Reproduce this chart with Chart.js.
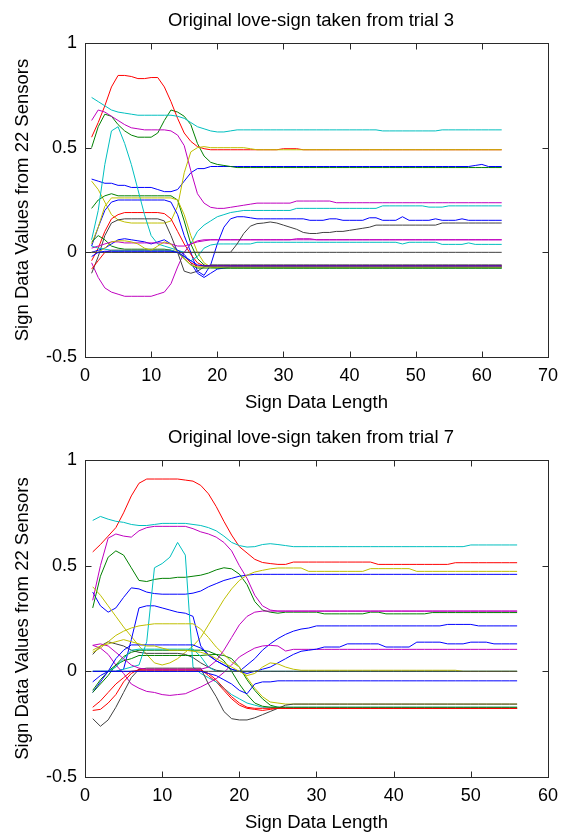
<!DOCTYPE html>
<html><head><meta charset="utf-8">
<script src="https://cdn.jsdelivr.net/npm/chart.js@4.4.1/dist/chart.umd.min.js"></script>
<style>
html,body{margin:0;padding:0;background:#fff;}
#wrap{position:relative;width:566px;height:834px;overflow:hidden;background:#fff;}
.box{position:absolute;left:0;width:566px;height:417px;}
</style></head><body>
<div id="wrap">
<div class="box" style="top:0"><canvas id="c3"></canvas></div>
<div class="box" style="top:417px"><canvas id="c7"></canvas></div>
</div>
<script>
// ---------- text ----------
const titleTrial3 = 'Original love-sign taken from trial 3';
const titleTrial7 = 'Original love-sign taken from trial 7';
const xAxisLabel = 'Sign Data Length';
const yAxisLabel = 'Sign Data Values from 22 Sensors';
// ---------- tick labels ----------
const xTicksTrial3 = [0,10,20,30,40,50,60,70];
const xTicksTrial7 = [0,10,20,30,40,50,60];
const yTicks = [-0.5,0,0.5,1];
// ---------- MATLAB colour order ----------
const lineColors = ['#0000ff','#008000','#ff0000','#00bfbf','#bf00bf','#bfbf00','#404040'];

// ---------- trial 3 : 22 sensors x 63 samples ----------
const trial3_01 = [0.35,0.34,0.33,0.33,0.32,0.32,0.31,0.31,0.31,0.31,
0.30,0.29,0.29,0.30,0.34,0.38,0.40,0.40,0.41,0.41,
0.41,0.41,0.41,0.41,0.41,0.41,0.41,0.41,0.41,0.41,
0.41,0.41,0.41,0.41,0.41,0.41,0.41,0.41,0.41,0.41,
0.41,0.41,0.41,0.41,0.41,0.41,0.41,0.41,0.41,0.41,
0.41,0.41,0.41,0.41,0.41,0.41,0.41,0.41,0.415,0.42,
0.41,0.41,0.41];
const trial3_02 = [0.50,0.60,0.66,0.65,0.61,0.58,0.56,0.55,0.55,0.55,
0.57,0.63,0.68,0.67,0.65,0.61,0.52,0.46,0.43,0.42,
0.415,0.41,0.405,0.405,0.405,0.405,0.405,0.405,0.405,0.405,
0.405,0.405,0.405,0.405,0.405,0.405,0.405,0.405,0.405,0.405,
0.405,0.405,0.405,0.405,0.405,0.405,0.405,0.405,0.405,0.405,
0.405,0.405,0.405,0.405,0.405,0.405,0.405,0.405,0.405,0.405,
0.405,0.405,0.405];
const trial3_03 = [0.55,0.62,0.70,0.79,0.845,0.845,0.84,0.83,0.83,0.835,
0.835,0.79,0.72,0.64,0.57,0.53,0.505,0.495,0.49,0.49,
0.49,0.49,0.49,0.49,0.49,0.49,0.49,0.49,0.49,0.495,
0.495,0.495,0.49,0.49,0.49,0.49,0.49,0.49,0.49,0.49,
0.49,0.49,0.49,0.49,0.49,0.49,0.49,0.49,0.49,0.49,
0.49,0.49,0.49,0.49,0.49,0.49,0.49,0.49,0.49,0.49,
0.49,0.49,0.49];
const trial3_04 = [0.74,0.72,0.70,0.68,0.67,0.665,0.66,0.655,0.655,0.655,
0.655,0.655,0.655,0.65,0.64,0.62,0.60,0.59,0.58,0.575,
0.575,0.58,0.585,0.585,0.585,0.585,0.585,0.585,0.585,0.585,
0.585,0.585,0.585,0.585,0.585,0.585,0.585,0.585,0.585,0.585,
0.585,0.585,0.585,0.585,0.58,0.58,0.58,0.58,0.58,0.58,
0.58,0.58,0.58,0.585,0.585,0.585,0.585,0.585,0.585,0.585,
0.585,0.585,0.585];
const trial3_05 = [0.63,0.68,0.67,0.65,0.63,0.61,0.595,0.59,0.585,0.585,
0.585,0.585,0.58,0.56,0.51,0.39,0.28,0.235,0.215,0.21,
0.21,0.215,0.22,0.225,0.23,0.235,0.235,0.235,0.235,0.235,
0.235,0.245,0.245,0.245,0.245,0.245,0.245,0.237,0.237,0.237,
0.237,0.237,0.237,0.237,0.237,0.237,0.237,0.237,0.237,0.237,
0.237,0.237,0.237,0.237,0.237,0.237,0.237,0.237,0.237,0.237,
0.237,0.237,0.237];
const trial3_06 = [0.34,0.30,0.24,0.18,0.155,0.145,0.14,0.14,0.14,0.14,
0.14,0.14,0.15,0.22,0.38,0.48,0.50,0.505,0.50,0.50,
0.50,0.50,0.50,0.50,0.495,0.49,0.49,0.49,0.49,0.49,
0.49,0.49,0.49,0.49,0.49,0.49,0.49,0.49,0.49,0.49,
0.49,0.49,0.49,0.49,0.49,0.49,0.49,0.49,0.49,0.49,
0.49,0.49,0.49,0.49,0.49,0.49,0.49,0.49,0.49,0.49,
0.49,0.49,0.49];
const trial3_07 = [0,0,0,0,0,0,0,0,0,0,
0,0,0,0,0,0,0,0,0,0,
0,0,0,0,0,0,0,0,0,0,
0,0,0,0,0,0,0,0,0,0,
0,0,0,0,0,0,0,0,0,0,
0,0,0,0,0,0,0,0,0,0,
0,0,0];
const trial3_08 = [0.03,0.12,0.20,0.24,0.25,0.25,0.25,0.25,0.25,0.25,
0.25,0.25,0.24,0.18,0.08,0.0,-0.09,-0.11,-0.06,0.04,
0.12,0.16,0.17,0.17,0.165,0.16,0.16,0.16,0.16,0.16,
0.16,0.16,0.16,0.153,0.153,0.153,0.16,0.16,0.153,0.153,
0.153,0.153,0.165,0.165,0.153,0.153,0.153,0.17,0.153,0.153,
0.153,0.153,0.16,0.153,0.153,0.153,0.16,0.153,0.153,0.153,
0.153,0.153,0.153];
const trial3_09 = [0.21,0.25,0.27,0.28,0.27,0.27,0.27,0.27,0.27,0.27,
0.27,0.27,0.27,0.25,0.15,0.04,-0.03,-0.06,-0.07,-0.075,
-0.075,-0.075,-0.075,-0.075,-0.075,-0.075,-0.075,-0.075,-0.075,-0.075,
-0.075,-0.075,-0.075,-0.075,-0.075,-0.075,-0.075,-0.075,-0.075,-0.075,
-0.075,-0.075,-0.075,-0.075,-0.075,-0.075,-0.075,-0.075,-0.075,-0.075,
-0.075,-0.075,-0.075,-0.075,-0.075,-0.075,-0.075,-0.075,-0.075,-0.075,
-0.075,-0.075,-0.075];
const trial3_10 = [-0.04,0.02,0.10,0.16,0.18,0.19,0.19,0.19,0.19,0.19,
0.19,0.185,0.16,0.10,0.04,-0.01,-0.05,-0.065,-0.065,-0.065,
-0.065,-0.065,-0.065,-0.065,-0.065,-0.065,-0.065,-0.065,-0.065,-0.065,
-0.065,-0.065,-0.065,-0.065,-0.065,-0.065,-0.065,-0.065,-0.065,-0.065,
-0.065,-0.065,-0.065,-0.065,-0.065,-0.065,-0.065,-0.065,-0.065,-0.065,
-0.065,-0.065,-0.065,-0.065,-0.065,-0.065,-0.065,-0.065,-0.065,-0.065,
-0.065,-0.065,-0.065];
const trial3_11 = [0.06,0.20,0.42,0.58,0.60,0.52,0.42,0.30,0.18,0.08,
0.04,0.03,0.02,0.01,0.0,0.04,0.10,0.13,0.15,0.17,
0.18,0.19,0.195,0.2,0.2,0.2,0.2,0.2,0.2,0.2,
0.2,0.21,0.21,0.21,0.21,0.21,0.21,0.21,0.21,0.21,
0.21,0.21,0.21,0.21,0.222,0.222,0.222,0.222,0.222,0.222,
0.222,0.216,0.216,0.216,0.222,0.222,0.222,0.222,0.222,0.222,
0.222,0.222,0.222];
const trial3_12 = [-0.05,-0.12,-0.17,-0.19,-0.2,-0.21,-0.21,-0.21,-0.21,-0.21,
-0.2,-0.19,-0.15,-0.07,0.0,0.04,0.055,0.06,0.06,0.06,
0.06,0.06,0.06,0.06,0.06,0.06,0.06,0.06,0.06,0.06,
0.06,0.065,0.065,0.065,0.06,0.06,0.06,0.06,0.06,0.06,
0.06,0.06,0.06,0.06,0.06,0.06,0.06,0.06,0.06,0.06,
0.06,0.06,0.06,0.06,0.06,0.06,0.06,0.06,0.06,0.06,
0.06,0.06,0.06];
const trial3_13 = [0.04,0.12,0.22,0.26,0.26,0.26,0.26,0.26,0.26,0.26,
0.26,0.26,0.26,0.25,0.18,0.08,0.0,-0.05,-0.07,-0.07,
-0.07,-0.07,-0.07,-0.07,-0.07,-0.07,-0.07,-0.07,-0.07,-0.07,
-0.07,-0.07,-0.07,-0.07,-0.07,-0.07,-0.07,-0.07,-0.07,-0.07,
-0.07,-0.07,-0.07,-0.07,-0.07,-0.07,-0.07,-0.07,-0.07,-0.07,
-0.07,-0.07,-0.07,-0.07,-0.07,-0.07,-0.07,-0.07,-0.07,-0.07,
-0.07,-0.07,-0.07];
const trial3_14 = [-0.1,-0.02,0.08,0.14,0.155,0.16,0.16,0.16,0.16,0.16,
0.16,0.15,0.08,0.0,-0.09,-0.1,-0.09,-0.07,-0.06,-0.06,
-0.06,-0.06,-0.06,-0.06,-0.06,-0.06,-0.06,-0.06,-0.06,-0.06,
-0.06,-0.06,-0.06,-0.06,-0.06,-0.06,-0.06,-0.06,-0.06,-0.06,
-0.06,-0.06,-0.06,-0.06,-0.06,-0.06,-0.06,-0.06,-0.06,-0.06,
-0.06,-0.06,-0.06,-0.06,-0.06,-0.06,-0.06,-0.06,-0.06,-0.06,
-0.06,-0.06,-0.06];
const trial3_15 = [0.0,0.01,0.02,0.04,0.06,0.065,0.06,0.055,0.05,0.04,
0.05,0.06,0.04,0.01,-0.01,-0.05,-0.1,-0.12,-0.1,-0.08,
-0.075,-0.07,-0.07,-0.07,-0.07,-0.07,-0.07,-0.07,-0.07,-0.07,
-0.07,-0.07,-0.07,-0.07,-0.07,-0.07,-0.07,-0.07,-0.07,-0.07,
-0.07,-0.07,-0.07,-0.07,-0.07,-0.07,-0.07,-0.07,-0.07,-0.07,
-0.07,-0.07,-0.07,-0.07,-0.07,-0.07,-0.07,-0.07,-0.07,-0.07,
-0.07,-0.07,-0.07];
const trial3_16 = [0.05,0.08,0.06,0.03,0.02,0.015,0.015,0.015,0.015,0.015,
0.015,0.015,0.01,0.0,-0.03,-0.06,-0.075,-0.075,-0.075,-0.075,
-0.075,-0.075,-0.075,-0.075,-0.075,-0.075,-0.075,-0.075,-0.075,-0.075,
-0.075,-0.075,-0.075,-0.075,-0.075,-0.075,-0.075,-0.075,-0.075,-0.075,
-0.075,-0.075,-0.075,-0.075,-0.075,-0.075,-0.075,-0.075,-0.075,-0.075,
-0.075,-0.075,-0.075,-0.075,-0.075,-0.075,-0.075,-0.075,-0.075,-0.075,
-0.075,-0.075,-0.075];
const trial3_17 = [-0.08,-0.04,0.0,0.01,0.01,0.01,0.01,0.01,0.01,0.01,
0.01,0.01,0.01,0.0,-0.02,-0.05,-0.065,-0.065,-0.065,-0.065,
-0.065,-0.065,-0.065,-0.065,-0.065,-0.065,-0.065,-0.065,-0.065,-0.065,
-0.065,-0.065,-0.065,-0.065,-0.065,-0.065,-0.065,-0.065,-0.065,-0.065,
-0.065,-0.065,-0.065,-0.065,-0.065,-0.065,-0.065,-0.065,-0.065,-0.065,
-0.065,-0.065,-0.065,-0.065,-0.065,-0.065,-0.065,-0.065,-0.065,-0.065,
-0.065,-0.065,-0.065];
const trial3_18 = [0.03,0.02,0.015,0.01,0.01,0.01,0.01,0.01,0.01,0.01,
0.01,0.01,0.01,0.0,-0.02,-0.04,-0.02,0.02,0.035,0.04,
0.04,0.04,0.04,0.04,0.04,0.048,0.048,0.048,0.048,0.048,
0.048,0.048,0.048,0.048,0.048,0.048,0.048,0.048,0.048,0.048,
0.048,0.048,0.048,0.048,0.048,0.048,0.048,0.04,0.048,0.048,
0.048,0.048,0.048,0.038,0.038,0.038,0.038,0.045,0.038,0.038,
0.038,0.038,0.038];
const trial3_19 = [0.02,0.03,0.04,0.05,0.05,0.045,0.045,0.045,0.045,0.045,
0.045,0.045,0.04,0.03,0.03,0.04,0.05,0.055,0.06,0.06,
0.06,0.06,0.06,0.06,0.06,0.06,0.06,0.06,0.06,0.06,
0.06,0.06,0.06,0.06,0.06,0.06,0.06,0.06,0.06,0.06,
0.06,0.06,0.06,0.06,0.06,0.06,0.06,0.06,0.06,0.06,
0.06,0.06,0.06,0.06,0.06,0.06,0.06,0.06,0.06,0.06,
0.06,0.06,0.06];
const trial3_20 = [0.0,0.0,0.02,0.05,0.055,0.055,0.05,0.04,0.02,0.01,
0.03,0.05,0.04,0.0,-0.03,-0.06,-0.07,-0.07,-0.07,-0.07,
-0.07,-0.07,-0.07,-0.07,-0.07,-0.07,-0.07,-0.07,-0.07,-0.07,
-0.07,-0.07,-0.07,-0.07,-0.07,-0.07,-0.07,-0.07,-0.07,-0.07,
-0.07,-0.07,-0.07,-0.07,-0.07,-0.07,-0.07,-0.07,-0.07,-0.07,
-0.07,-0.07,-0.07,-0.07,-0.07,-0.07,-0.07,-0.07,-0.07,-0.07,
-0.07,-0.07,-0.07];
const trial3_21 = [0,0,0,0,0,0,0,0,0,0,
0,0,0,0,0,0,0,0,0,0,
0,0,0.04,0.09,0.125,0.137,0.14,0.145,0.14,0.13,
0.12,0.11,0.095,0.09,0.09,0.095,0.095,0.1,0.1,0.105,
0.11,0.115,0.12,0.13,0.13,0.13,0.13,0.13,0.13,0.13,
0.13,0.13,0.13,0.14,0.14,0.14,0.14,0.14,0.14,0.14,
0.14,0.14,0.14];
const trial3_22 = [-0.02,0.0,0.005,0.005,0.005,0.005,0.005,0.005,0.005,0.005,
0.005,0.005,0.005,0.0,-0.02,-0.04,-0.06,-0.065,-0.065,-0.065,
-0.065,-0.065,-0.065,-0.065,-0.065,-0.065,-0.065,-0.065,-0.065,-0.065,
-0.065,-0.065,-0.065,-0.065,-0.065,-0.065,-0.065,-0.065,-0.065,-0.065,
-0.065,-0.065,-0.065,-0.065,-0.065,-0.065,-0.065,-0.065,-0.065,-0.065,
-0.065,-0.065,-0.065,-0.065,-0.065,-0.065,-0.065,-0.065,-0.065,-0.065,
-0.065,-0.065,-0.065];

// ---------- trial 7 : 22 sensors x 56 samples ----------
const trial7_01 = [0.375,0.31,0.28,0.30,0.35,0.395,0.39,0.375,0.368,0.365,
0.365,0.365,0.365,0.37,0.38,0.40,0.415,0.43,0.44,0.45,
0.455,0.459,0.459,0.459,0.459,0.459,0.459,0.459,0.459,0.459,
0.459,0.459,0.459,0.459,0.459,0.459,0.459,0.459,0.459,0.459,
0.459,0.459,0.459,0.459,0.459,0.459,0.459,0.459,0.459,0.459,
0.459,0.459,0.459,0.459,0.459,0.459];
const trial7_02 = [0.30,0.45,0.54,0.57,0.55,0.49,0.43,0.425,0.435,0.44,
0.44,0.445,0.445,0.45,0.455,0.465,0.48,0.49,0.485,0.46,
0.41,0.33,0.29,0.28,0.275,0.28,0.28,0.28,0.28,0.28,
0.272,0.272,0.272,0.272,0.272,0.272,0.28,0.28,0.272,0.272,
0.272,0.272,0.272,0.272,0.278,0.278,0.278,0.278,0.278,0.278,
0.278,0.278,0.278,0.278,0.278,0.278];
const trial7_03 = [0.565,0.60,0.64,0.68,0.75,0.83,0.89,0.91,0.91,0.91,
0.91,0.91,0.905,0.90,0.88,0.84,0.78,0.71,0.645,0.59,
0.56,0.53,0.515,0.51,0.506,0.506,0.517,0.517,0.517,0.517,
0.517,0.517,0.517,0.517,0.517,0.517,0.517,0.506,0.506,0.506,
0.506,0.506,0.506,0.506,0.506,0.506,0.506,0.514,0.514,0.514,
0.514,0.514,0.514,0.514,0.514,0.514];
const trial7_04 = [0.714,0.733,0.72,0.71,0.705,0.695,0.69,0.69,0.695,0.70,
0.70,0.70,0.70,0.695,0.69,0.68,0.665,0.64,0.61,0.595,
0.588,0.59,0.60,0.604,0.60,0.595,0.59,0.59,0.59,0.59,
0.59,0.59,0.59,0.59,0.59,0.59,0.59,0.59,0.59,0.59,
0.59,0.59,0.59,0.59,0.59,0.59,0.59,0.59,0.59,0.598,
0.598,0.598,0.598,0.598,0.598,0.598];
const trial7_05 = [0.336,0.50,0.63,0.65,0.64,0.635,0.665,0.68,0.686,0.686,
0.686,0.686,0.686,0.675,0.66,0.65,0.635,0.61,0.57,0.50,
0.44,0.36,0.31,0.29,0.285,0.285,0.285,0.285,0.285,0.285,
0.285,0.285,0.285,0.285,0.285,0.285,0.285,0.285,0.285,0.285,
0.285,0.285,0.285,0.285,0.285,0.285,0.285,0.285,0.285,0.285,
0.285,0.285,0.285,0.285,0.285,0.285];
const trial7_06 = [0.40,0.36,0.31,0.26,0.21,0.165,0.12,0.08,0.04,0.03,
0.04,0.06,0.09,0.12,0.16,0.22,0.28,0.34,0.39,0.43,
0.455,0.47,0.478,0.485,0.489,0.489,0.489,0.489,0.473,0.473,
0.473,0.473,0.473,0.473,0.473,0.473,0.486,0.486,0.486,0.486,
0.486,0.486,0.473,0.473,0.473,0.473,0.473,0.473,0.473,0.473,
0.473,0.473,0.473,0.473,0.473,0.473];
const trial7_07 = [0.08,0.12,0.14,0.13,0.12,0.10,0.09,0.085,0.085,0.085,
0.085,0.085,0.08,0.065,0.04,0.02,0.005,0,0,0,
0,0,0,0,0,0,0,0,0,0,
0,0,0,0,0,0,0,0,0,0,
0,0,0,0,0,0,0,0,0,0,
0,0,0,0,0,0];
const trial7_08 = [-0.05,-0.02,0.0,0.0,0.01,0.15,0.30,0.31,0.31,0.30,
0.29,0.28,0.275,0.26,0.12,0.075,0.05,0.03,0.01,0.0,
0.03,0.06,0.1,0.13,0.155,0.175,0.19,0.2,0.205,0.215,
0.215,0.215,0.215,0.215,0.215,0.215,0.215,0.215,0.215,0.215,
0.215,0.215,0.215,0.215,0.215,0.215,0.222,0.222,0.222,0.222,
0.215,0.215,0.215,0.215,0.215,0.215];
const trial7_09 = [-0.09,-0.04,0.0,0.03,0.05,0.06,0.075,0.075,0.075,0.075,
0.075,0.075,0.075,0.075,0.075,0.078,0.08,0.075,0.06,0.02,
-0.04,-0.09,-0.13,-0.16,-0.17,-0.175,-0.175,-0.175,-0.175,-0.175,
-0.175,-0.175,-0.175,-0.175,-0.175,-0.175,-0.175,-0.175,-0.175,-0.175,
-0.175,-0.175,-0.175,-0.175,-0.175,-0.175,-0.175,-0.175,-0.175,-0.175,
-0.175,-0.175,-0.175,-0.175,-0.175,-0.175];
const trial7_10 = [-0.185,-0.18,-0.15,-0.11,-0.05,-0.01,0.01,0.01,0.01,0.01,
0.01,0.01,0.01,0.01,0.01,-0.02,-0.05,-0.09,-0.13,-0.16,
-0.175,-0.18,-0.185,-0.18,-0.175,-0.175,-0.175,-0.175,-0.175,-0.175,
-0.175,-0.175,-0.175,-0.175,-0.175,-0.175,-0.175,-0.175,-0.175,-0.175,
-0.175,-0.175,-0.175,-0.175,-0.175,-0.175,-0.175,-0.175,-0.175,-0.175,
-0.175,-0.175,-0.175,-0.175,-0.175,-0.175];
const trial7_11 = [0.0,0.0,0.0,0.0,0.01,0.02,0.03,0.14,0.49,0.51,
0.54,0.61,0.55,0.02,-0.01,-0.03,-0.05,-0.08,-0.11,-0.13,
-0.15,-0.16,-0.17,-0.17,-0.17,-0.17,-0.17,-0.17,-0.17,-0.17,
-0.17,-0.17,-0.17,-0.17,-0.17,-0.17,-0.17,-0.17,-0.17,-0.17,
-0.17,-0.17,-0.17,-0.17,-0.17,-0.17,-0.17,-0.17,-0.17,-0.17,
-0.17,-0.17,-0.17,-0.17,-0.17,-0.17];
const trial7_12 = [0.123,0.11,0.08,0.03,-0.01,-0.06,-0.08,-0.095,-0.10,-0.11,
-0.114,-0.11,-0.106,-0.09,-0.074,-0.055,-0.035,-0.005,0.03,0.068,
0.09,0.11,0.12,0.123,0.12,0.096,0.104,0.104,0.104,0.104,
0.104,0.104,0.104,0.104,0.104,0.104,0.104,0.104,0.104,0.104,
0.104,0.104,0.104,0.104,0.104,0.104,0.104,0.104,0.104,0.104,
0.104,0.104,0.104,0.104,0.104,0.104];
const trial7_13 = [0.09,0.11,0.14,0.17,0.19,0.205,0.215,0.22,0.225,0.225,
0.225,0.225,0.225,0.225,0.2,0.16,0.115,0.08,0.045,0.02,
-0.03,-0.08,-0.12,-0.145,-0.15,-0.155,-0.155,-0.155,-0.155,-0.155,
-0.155,-0.155,-0.155,-0.155,-0.155,-0.155,-0.155,-0.155,-0.155,-0.155,
-0.155,-0.155,-0.155,-0.155,-0.155,-0.155,-0.155,-0.155,-0.155,-0.155,
-0.155,-0.155,-0.155,-0.155,-0.155,-0.155];
const trial7_14 = [-0.224,-0.26,-0.23,-0.17,-0.1,-0.03,0.01,0.015,0.015,0.015,
0.015,0.015,0.015,0.015,0.015,-0.06,-0.12,-0.19,-0.224,-0.23,
-0.23,-0.22,-0.205,-0.19,-0.175,-0.16,-0.155,-0.155,-0.155,-0.155,
-0.155,-0.155,-0.155,-0.155,-0.155,-0.155,-0.155,-0.155,-0.155,-0.155,
-0.155,-0.155,-0.155,-0.155,-0.155,-0.155,-0.155,-0.155,-0.155,-0.155,
-0.155,-0.155,-0.155,-0.155,-0.155,-0.155];
const trial7_15 = [-0.1,-0.05,0.0,0.06,0.1,0.125,0.125,0.125,0.125,0.125,
0.125,0.125,0.125,0.125,0.11,0.08,0.05,0.03,0.01,0.0,
-0.01,0.0,0.01,0.02,0.04,0.06,0.08,0.095,0.1,0.105,
0.115,0.115,0.115,0.13,0.13,0.13,0.13,0.13,0.115,0.115,
0.115,0.115,0.138,0.138,0.138,0.138,0.13,0.13,0.13,0.138,
0.138,0.138,0.13,0.13,0.13,0.13];
const trial7_16 = [-0.1,-0.06,-0.02,0.03,0.07,0.09,0.1,0.1,0.1,0.1,
0.1,0.1,0.1,0.1,0.1,0.095,0.08,0.05,0.0,-0.06,
-0.11,-0.15,-0.165,-0.17,-0.17,-0.17,-0.17,-0.17,-0.17,-0.17,
-0.17,-0.17,-0.17,-0.17,-0.17,-0.17,-0.17,-0.17,-0.17,-0.17,
-0.17,-0.17,-0.17,-0.17,-0.17,-0.17,-0.17,-0.17,-0.17,-0.17,
-0.17,-0.17,-0.17,-0.17,-0.17,-0.17];
const trial7_17 = [-0.17,-0.14,-0.1,-0.06,-0.03,0.0,0.005,0.005,0.005,0.005,
0.005,0.005,0.005,0.005,0.005,-0.01,-0.04,-0.08,-0.12,-0.15,
-0.17,-0.175,-0.175,-0.175,-0.175,-0.175,-0.175,-0.175,-0.175,-0.175,
-0.175,-0.175,-0.175,-0.175,-0.175,-0.175,-0.175,-0.175,-0.175,-0.175,
-0.175,-0.175,-0.175,-0.175,-0.175,-0.175,-0.175,-0.175,-0.175,-0.175,
-0.175,-0.175,-0.175,-0.175,-0.175,-0.175];
const trial7_18 = [0,0,0,0.02,0.06,0.1,0.105,0.105,0.105,0.105,
0.105,0.105,0.105,0.105,0.07,0.02,0,0,0,0,
0,0,0,0,0,0,0,0,0,0,
0,0,0,0,0,0,0,0,0,0,
0,0,0,0,0,0,0,0,0,0,
0,0,0,0,0,0];
const trial7_19 = [0.123,0.13,0.12,0.09,0.06,0.03,0.015,0.01,0.01,0.01,
0.01,0.01,0.01,0.01,0.01,0.02,0.05,0.1,0.16,0.22,
0.26,0.28,0.285,0.285,0.285,0.285,0.285,0.285,0.285,0.285,
0.285,0.285,0.285,0.285,0.285,0.285,0.285,0.285,0.285,0.285,
0.285,0.285,0.285,0.285,0.285,0.285,0.285,0.285,0.285,0.285,
0.285,0.285,0.285,0.285,0.285,0.285];
const trial7_20 = [0.1,0.12,0.13,0.14,0.15,0.14,0.13,0.12,0.12,0.11,
0.1,0.1,0.1,0.095,0.09,0.08,0.06,0.04,0.02,0.0,
-0.02,-0.01,0.02,0.04,0.035,0.02,0.01,0.005,0.005,0.005,
0.005,0.005,0.005,0.005,0.005,0.005,0.005,0.005,0.005,0.005,
0.005,0.005,0.005,0.005,0.005,0.005,0.005,0.005,0,0,
0,0,0,0,0,0];
const trial7_21 = [0,0,0,0,0,0,0,0,0,0,
0,0,0,0,0,0,0,0,0,0,
0,0,0,0,0,0,0,0,0,0,
0,0,0,0,0,0,0,0,0,0,
0,0,0,0,0,0,0,0,0,0,
0,0,0,0,0,0];
const trial7_22 = [0,0,0,0,0,0,0,0,0,0,
0,0,0,0,0,-0.01,-0.02,-0.04,-0.06,-0.09,
-0.106,-0.06,-0.05,-0.05,-0.045,-0.045,-0.045,-0.045,-0.045,-0.045,
-0.045,-0.045,-0.045,-0.045,-0.045,-0.045,-0.045,-0.045,-0.045,-0.045,
-0.045,-0.045,-0.045,-0.045,-0.045,-0.045,-0.045,-0.045,-0.045,-0.045,
-0.045,-0.045,-0.045,-0.045,-0.045,-0.045];

const trial3Series = [trial3_01,trial3_02,trial3_03,trial3_04,trial3_05,trial3_06,trial3_07,trial3_08,trial3_09,trial3_10,trial3_11,
  trial3_12,trial3_13,trial3_14,trial3_15,trial3_16,trial3_17,trial3_18,trial3_19,trial3_20,trial3_21,trial3_22];
const trial7Series = [trial7_01,trial7_02,trial7_03,trial7_04,trial7_05,trial7_06,trial7_07,trial7_08,trial7_09,trial7_10,trial7_11,
  trial7_12,trial7_13,trial7_14,trial7_15,trial7_16,trial7_17,trial7_18,trial7_19,trial7_20,trial7_21,trial7_22];

// ---------- drawing ----------
const FONT = '"Liberation Sans", Arial, Helvetica, sans-serif';

const matlabAxes = {
  id: 'matlabAxes',
  afterDraw(chart, args, opts) {
    const {ctx, chartArea, scales} = chart;
    const l = Math.round(chartArea.left) + 0.5, r = Math.round(chartArea.right) + 0.5;
    const t = Math.round(chartArea.top) + 0.5, b = Math.round(chartArea.bottom) + 0.5;
    ctx.save();
    ctx.strokeStyle = '#2a2a2a';
    ctx.lineWidth = 1;
    ctx.strokeRect(l, t, r - l, b - t);
    ctx.beginPath();
    scales.x.ticks.forEach(tk => {
      const px = Math.round(scales.x.getPixelForValue(tk.value)) + 0.5;
      ctx.moveTo(px, b); ctx.lineTo(px, b - 6);
      ctx.moveTo(px, t); ctx.lineTo(px, t + 6);
    });
    scales.y.ticks.forEach(tk => {
      const py = Math.round(scales.y.getPixelForValue(tk.value)) + 0.5;
      ctx.moveTo(l, py); ctx.lineTo(l + 6, py);
      ctx.moveTo(r, py); ctx.lineTo(r - 6, py);
    });
    ctx.stroke();
    ctx.fillStyle = '#000';
    ctx.font = '18.5px ' + FONT;
    ctx.textAlign = 'center';
    ctx.textBaseline = 'middle';
    ctx.fillText(opts.title, opts.titleX, opts.titleY);
    ctx.restore();
  }
};

function buildChart(canvasId, series, xTicks, xMax, cfg) {
  const datasets = series.map((values, i) => ({
    data: values.map((v, j) => ({x: j + 1, y: v})),
    borderColor: lineColors[i % lineColors.length],
    backgroundColor: lineColors[i % lineColors.length],
    borderWidth: 1,
    pointRadius: 0,
    fill: false,
    tension: 0,
    order: series.length - i
  }));
  return new Chart(document.getElementById(canvasId), {
    type: 'line',
    data: {datasets},
    options: {
      responsive: true,
      maintainAspectRatio: false,
      animation: false,
      events: [],
      layout: {padding: {top: 43, right: cfg.right, left: 0, bottom: 0}},
      plugins: {
        legend: {display: false},
        tooltip: {enabled: false},
        title: {display: false},
        matlabAxes: {title: cfg.title, titleX: 311, titleY: 21}
      },
      scales: {
        x: {
          type: 'linear', min: 0, max: xMax,
          afterBuildTicks: s => { s.ticks = xTicks.map(v => ({value: v})); },
          afterFit: s => { s.height = cfg.xh; },
          ticks: {padding: 8, color: '#000', font: {family: FONT, size: 18}, maxRotation: 0, autoSkip: false,
                  callback: v => String(v)},
          grid: {display: false, drawTicks: false},
          border: {display: false},
          title: {display: true, text: xAxisLabel, color: '#000', font: {family: FONT, size: 18.5},
                  padding: {top: 0, bottom: cfg.xtpad}}
        },
        y: {
          type: 'linear', min: -0.5, max: 1,
          afterBuildTicks: s => { s.ticks = yTicks.map(v => ({value: v})); },
          afterFit: s => { s.width = 85; },
          ticks: {padding: 8, color: '#000', font: {family: FONT, size: 18}, autoSkip: false,
                  callback: v => String(v)},
          grid: {display: false, drawTicks: false},
          border: {display: false},
          title: {display: true, text: yAxisLabel, color: '#000', font: {family: FONT, size: 18.5},
                  padding: {top: 12, bottom: 0}}
        }
      }
    },
    plugins: [matlabAxes]
  });
}

buildChart('c3', trial3Series, xTicksTrial3, 70, {right: 16, xh: 60, xtpad: 3, title: titleTrial3});
buildChart('c7', trial7Series, xTicksTrial7, 60, {right: 17, xh: 57, xtpad: 0, title: titleTrial7});
</script>
</body></html>
